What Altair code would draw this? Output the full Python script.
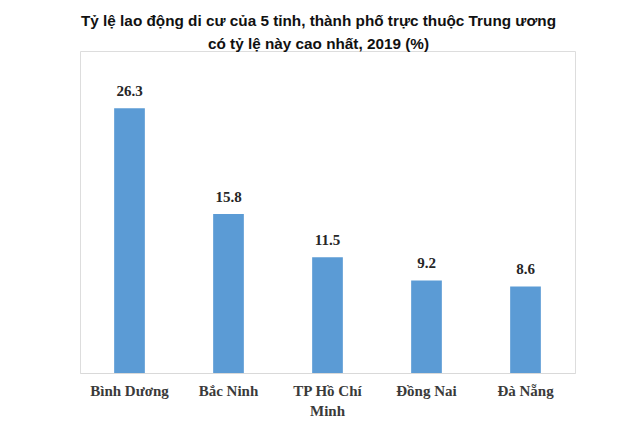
import altair as alt
import pandas as pd

categories = ["Bình Dương", "Bắc Ninh", "TP Hồ Chí Minh", "Đồng Nai", "Đà Nẵng"]
values = [26.3, 15.8, 11.5, 9.2, 8.6]

df = pd.DataFrame({"tinh": categories, "tyle": values})
df["label"] = df["tyle"].map(lambda v: f"{v:.1f}")

x = alt.X(
    "tinh:N",
    sort=categories,
    title=None,
    scale=alt.Scale(paddingInner=0.69, paddingOuter=0.345),
    axis=alt.Axis(
        labelAngle=0,
        labelFont="Liberation Serif",
        labelFontWeight="bold",
        labelFontSize=15,
        labelColor="#3a3a3a",
        labelPadding=10,
        labelLineHeight=20,
        labelExpr="datum.label == 'TP Hồ Chí Minh' ? ['TP Hồ Chí', 'Minh'] : datum.label",
        ticks=False,
        domainColor="#d9d9d9",
        domainWidth=1,
        grid=False,
    ),
)
y = alt.Y("tyle:Q", scale=alt.Scale(domain=[0, 32], nice=False), axis=None)

bars = alt.Chart(df).mark_bar(color="#5b9bd5").encode(x=x, y=y)
text = alt.Chart(df).mark_text(
    dy=-9, baseline="bottom", font="Liberation Serif", fontWeight="bold", fontSize=15, color="#262626"
).encode(x=x, y=y, text="label:N")

chart = (
    (bars + text)
    .properties(
        width=495,
        height=322,
        autosize=alt.AutoSizeParams(type="none"),
        padding={"left": 80, "top": 51, "right": 55, "bottom": 51},
        title=alt.TitleParams(
            ["Tỷ lệ lao động di cư của 5 tỉnh, thành phố trực thuộc Trung ương", "có tỷ lệ này cao nhất, 2019 (%)"],
            font="Liberation Sans",
            fontSize=15.3,
            fontWeight="bold",
            color="#111111",
            anchor="middle",
            lineHeight=23,
            offset=-1,
            dx=-9,
        ),
    )
    .configure_view(stroke=None)
    .configure(background="white")
)

chart.save("out.html", embed_options={"renderer": "svg", "actions": False})
